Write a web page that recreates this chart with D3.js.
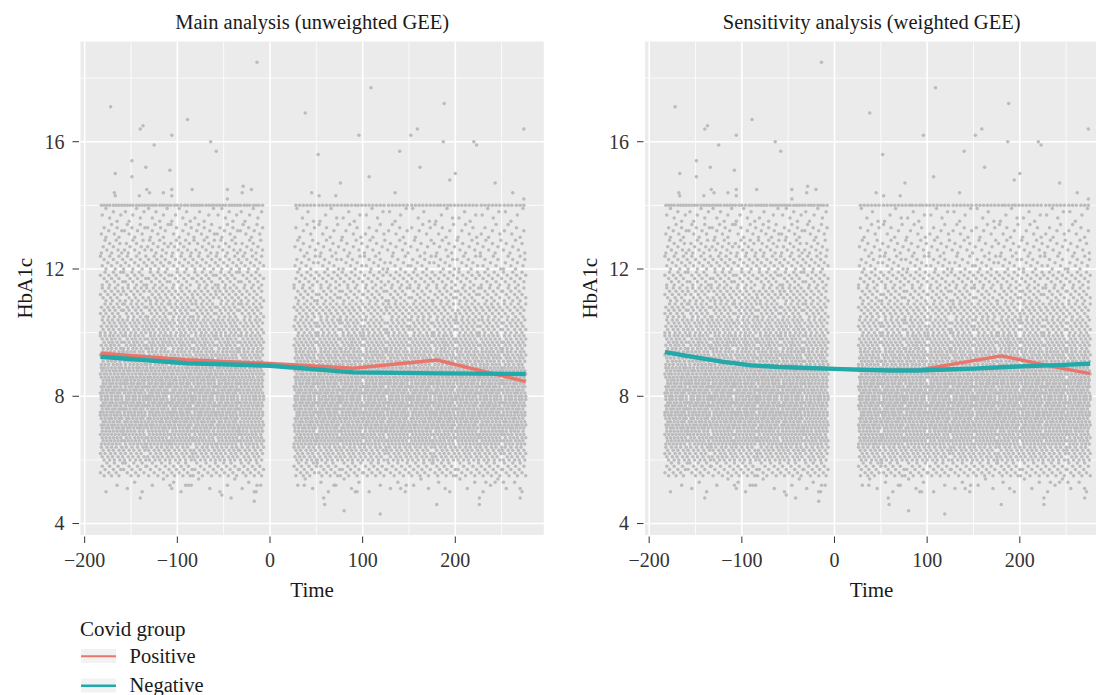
<!DOCTYPE html>
<html><head><meta charset="utf-8">
<script src="https://cdn.jsdelivr.net/npm/d3@7"></script>
<style>
html,body{margin:0;padding:0;background:#fff;}
svg{display:block;font-family:"Liberation Serif","DejaVu Serif",serif;}
</style></head><body>
<svg id="chart" width="1096" height="695"></svg>
<script>
// ---------------- DATA ----------------
const panelTitles = ["Main analysis (unweighted GEE)", "Sensitivity analysis (weighted GEE)"];
const xTickValues = [-200, -100, 0, 100, 200];
const xMinorValues = [-150, -50, 50, 150, 250];
const yTickValues = [4, 8, 12, 16];
const yMinorValues = [6, 10, 14, 18];
const groupNames = ["Positive", "Negative"];

// fitted lines, main analysis (unweighted GEE)
const mainTime = [-183, -90, 0, 90, 180, 276];
const mainPositive = [9.35, 9.15, 9.03, 8.88, 9.14, 8.46];
const mainNegative = [9.24, 9.04, 8.96, 8.75, 8.72, 8.70];

// fitted lines, sensitivity analysis (weighted GEE)
const sensTime = [-183, -150, -120, -90, -60, -30, 0, 30, 60, 90, 120, 150, 180, 210, 240, 276];
const sensPositive = [9.40, 9.23, 9.09, 8.98, 8.93, 8.90, 8.87, 8.84, 8.82, 8.82, 8.97, 9.12, 9.27, 9.09, 8.91, 8.71];
const sensNegative = [9.39, 9.22, 9.08, 8.97, 8.92, 8.89, 8.86, 8.83, 8.81, 8.81, 8.84, 8.87, 8.91, 8.95, 8.98, 9.02];

// observed HbA1c measurements, read as counts per time window x 0.5-unit HbA1c band
const binStart = [-183, -158, -133, -108, -83, -58, -33, 26, 51, 76, 101, 126, 151, 176, 201, 226, 251];
const binEnd   = [-158, -133, -108, -83, -58, -33, -6, 51, 76, 101, 126, 151, 176, 201, 226, 251, 277];
const bandLow  = [5.0, 5.5, 6.0, 6.5, 7.0, 7.5, 8.0, 8.5, 9.0, 9.5, 10.0, 10.5, 11.0, 11.5, 12.0, 12.5, 13.0, 13.5];
const cellCounts = [
  [2, 3, 2, 3, 2, 3, 4,   3, 3, 3, 2, 3, 3, 2, 3, 3, 3],
  [15, 14, 13, 15, 13, 14, 16,  16, 15, 14, 14, 13, 14, 15, 13, 14, 15],
  [23, 22, 23, 22, 23, 24, 24,  24, 23, 23, 22, 23, 22, 23, 23, 22, 23],
  [31, 30, 31, 31, 30, 31, 32,  32, 31, 31, 30, 31, 31, 30, 31, 31, 30],
  [34, 34, 33, 34, 34, 34, 34,  34, 34, 33, 34, 34, 33, 34, 34, 33, 34],
  [35, 35, 35, 36, 35, 35, 35,  35, 36, 35, 35, 35, 35, 35, 34, 35, 35],
  [35, 35, 36, 35, 35, 35, 35,  35, 35, 35, 36, 35, 35, 34, 35, 35, 35],
  [33, 33, 33, 33, 34, 33, 33,  33, 33, 32, 33, 33, 33, 33, 33, 32, 33],
  [29, 30, 29, 29, 29, 30, 29,  29, 28, 29, 29, 28, 29, 29, 28, 29, 28],
  [26, 26, 27, 26, 26, 26, 27,  25, 25, 26, 25, 25, 25, 26, 25, 25, 25],
  [23, 23, 24, 23, 23, 24, 23,  21, 21, 22, 21, 21, 20, 21, 21, 20, 21],
  [20, 20, 20, 21, 20, 20, 20,  18, 18, 18, 17, 18, 18, 17, 18, 18, 17],
  [17, 17, 18, 17, 17, 18, 17,  15, 15, 14, 15, 15, 14, 15, 15, 14, 15],
  [15, 15, 15, 14, 15, 15, 15,  13, 13, 13, 12, 13, 13, 13, 12, 13, 13],
  [13, 13, 14, 13, 13, 13, 14,  10, 10, 10, 10, 9, 10, 10, 10, 9, 10],
  [11, 11, 11, 12, 11, 11, 11,  8, 8, 8, 8, 8, 7, 8, 8, 8, 8],
  [9, 9, 9, 8, 9, 9, 9,  6, 6, 6, 6, 6, 6, 6, 6, 6, 6],
  [6, 6, 6, 6, 5, 6, 6,  4, 4, 4, 4, 4, 4, 4, 4, 4, 4]
];
// the row of values recorded at the 14.0 ceiling
const capValue = 14.0;
const capCounts = [8, 8, 8, 7, 8, 8, 8,  6, 6, 7, 6, 6, 6, 7, 6, 6, 6];
// isolated measurements (time, HbA1c)
const outlierTime = [-14, 109, -172, 38, 188, -89, -140, -137, 159, 152, 274, 96, -106, -125, -64, -58, 187, 220, 223, 52, 140,
  -149, -134, -108, -167, -149, 162, 107, 76, 194, 200, 243, -168, -167, -141, -133, -130, -115, -106, -106, -84, -46, -29, -20, -30, -46,
  45, 53, 71, 135, 262, 274,
  -140, -108, -106, -91, -85, -52, -42, -17, -15, -14, 37, 58, 59, 69, 80, 92, 94, 119, 141, 147, 180, 189, 226, 226, 233, 243, 252, 270, 270];
const outlierValue = [18.5, 17.7, 17.1, 16.9, 17.2, 16.7, 16.4, 16.5, 16.4, 16.2, 16.4, 16.2, 16.2, 15.9, 16.0, 15.7, 16.0, 16.0, 15.9, 15.6, 15.7,
  15.4, 15.2, 15.1, 15.0, 14.9, 15.2, 14.9, 14.7, 14.8, 15.0, 14.7, 14.4, 14.3, 14.3, 14.5, 14.4, 14.4, 14.5, 14.3, 14.5, 14.5, 14.6, 14.5, 14.4, 14.2,
  14.4, 14.3, 14.3, 14.4, 14.4, 14.2,
  4.8, 5.2, 5.1, 5.2, 5.2, 4.9, 4.8, 4.7, 5.0, 5.2, 5.2, 4.8, 4.6, 5.2, 4.4, 5.0, 5.0, 4.3, 5.1, 5.2, 4.6, 5.1, 4.8, 4.6, 5.3, 5.3, 5.3, 4.8, 5.1];

// ---------------- BUILD ----------------
const points = [];
bandLow.forEach((low, i) => {
  binStart.forEach((s, j) => {
    const n = cellCounts[i][j], days = binEnd[j] - s;
    for (let k = 0; k < n; k++) {
      const t = s + Math.floor((k + 0.5) * days / n);
      const r = (k * 2 + i + j) % 5;
      points.push({t, v: +(low + r * 0.1).toFixed(1)});
    }
  });
});
binStart.forEach((s, j) => {
  const n = capCounts[j], days = binEnd[j] - s;
  for (let k = 0; k < n; k++) points.push({t: s + Math.floor((k + 0.5) * days / n), v: capValue});
});
outlierTime.forEach((t, i) => points.push({t, v: outlierValue[i]}));

const toSeries = (ts, vs) => ts.map((t, i) => ({t, v: vs[i]}));
const panels = [
  {title: panelTitles[0], left: 80.5, lines: [toSeries(mainTime, mainPositive), toSeries(mainTime, mainNegative)]},
  {title: panelTitles[1], left: 645, lines: [toSeries(sensTime, sensPositive), toSeries(sensTime, sensNegative)]}
];
const lineColors = ["#EA756B", "#22A9AA"];
const lineWidths = [3.4, 4.4];
const panelW = 463.3, panelTop = 41.5, panelBottom = 535;
const xDomain = [-204.5, 295.5];
const y = d3.scaleLinear().domain([3.64, 19.15]).range([panelBottom, panelTop]);

const svg = d3.select("#chart");
panels.forEach(p => {
  const x = d3.scaleLinear().domain(xDomain).range([p.left, p.left + panelW]);
  const g = svg.append("g");
  g.append("rect").attr("x", p.left).attr("y", panelTop).attr("width", panelW).attr("height", panelBottom - panelTop).attr("fill", "#EBEBEB");
  // grid
  g.append("g").selectAll("line").data(yMinorValues).join("line")
    .attr("x1", p.left).attr("x2", p.left + panelW).attr("y1", d => y(d)).attr("y2", d => y(d))
    .attr("stroke", "#fff").attr("stroke-width", 0.8);
  g.append("g").selectAll("line").data(xMinorValues).join("line")
    .attr("y1", panelTop).attr("y2", panelBottom).attr("x1", d => x(d)).attr("x2", d => x(d))
    .attr("stroke", "#fff").attr("stroke-width", 0.8);
  g.append("g").selectAll("line").data(yTickValues).join("line")
    .attr("x1", p.left).attr("x2", p.left + panelW).attr("y1", d => y(d)).attr("y2", d => y(d))
    .attr("stroke", "#fff").attr("stroke-width", 1.6);
  g.append("g").selectAll("line").data(xTickValues).join("line")
    .attr("y1", panelTop).attr("y2", panelBottom).attr("x1", d => x(d)).attr("x2", d => x(d))
    .attr("stroke", "#fff").attr("stroke-width", 1.6);
  // points
  g.append("g").selectAll("circle").data(points).join("circle")
    .attr("cx", d => x(d.t)).attr("cy", d => y(d.v)).attr("r", 1.75).attr("fill", "#BBBBBE");
  // lines
  const line = d3.line().x(d => x(d.t)).y(d => y(d.v));
  p.lines.forEach((s, i) => {
    g.append("path").attr("d", line(s)).attr("fill", "none")
      .attr("stroke", lineColors[i]).attr("stroke-width", lineWidths[i]).attr("stroke-linejoin", "round");
  });
  // axes ticks
  g.append("g").selectAll("line").data(xTickValues).join("line")
    .attr("x1", d => x(d)).attr("x2", d => x(d)).attr("y1", panelBottom + 1.5).attr("y2", panelBottom + 8)
    .attr("stroke", "#333").attr("stroke-width", 1);
  g.append("g").selectAll("text").data(xTickValues).join("text")
    .attr("x", d => x(d)).attr("y", 566.5).attr("text-anchor", "middle")
    .attr("font-size", 20).attr("fill", "#333")
    .text(d => d < 0 ? "\u2212" + Math.abs(d) : d);
  g.append("g").selectAll("line").data(yTickValues).join("line")
    .attr("x1", p.left - 8).attr("x2", p.left - 1.5).attr("y1", d => y(d)).attr("y2", d => y(d))
    .attr("stroke", "#333").attr("stroke-width", 1);
  g.append("g").selectAll("text").data(yTickValues).join("text")
    .attr("x", p.left - 16).attr("y", d => y(d) + 6.8).attr("text-anchor", "end")
    .attr("font-size", 20).attr("fill", "#333").text(d => d);
  // titles
  const cx = p.left + panelW / 2 + (p.left > 600 ? -5 : 0);
  g.append("text").attr("x", cx).attr("y", 28.5).attr("text-anchor", "middle")
    .attr("font-size", 20.5).attr("fill", "#1a1a1a").text(p.title);
  g.append("text").attr("x", cx).attr("y", 597).attr("text-anchor", "middle")
    .attr("font-size", 21).attr("fill", "#1a1a1a").text("Time");
  g.append("text").attr("transform", `translate(${p.left - 55.5},${(panelTop + panelBottom) / 2}) rotate(-90)`)
    .attr("text-anchor", "middle").attr("dy", "0.35em")
    .attr("font-size", 21).attr("fill", "#1a1a1a").text("HbA1c");
});

// legend
const lg = svg.append("g");
lg.append("text").attr("x", 80).attr("y", 636).attr("font-size", 21).attr("fill", "#1a1a1a").text("Covid group");
groupNames.forEach((name, i) => {
  const ky = 649 + i * 29.5;
  lg.append("rect").attr("x", 81).attr("y", ky).attr("width", 35).attr("height", 14).attr("fill", "#F2F2F2");
  lg.append("line").attr("x1", 81).attr("x2", 116).attr("y1", ky + 7.3).attr("y2", ky + 7.3)
    .attr("stroke", lineColors[i]).attr("stroke-width", i === 0 ? 2 : 2.6);
  lg.append("text").attr("x", 129.5).attr("y", ky + 13.5).attr("font-size", 20.5).attr("fill", "#1a1a1a").text(name);
});
</script>
</body></html>
